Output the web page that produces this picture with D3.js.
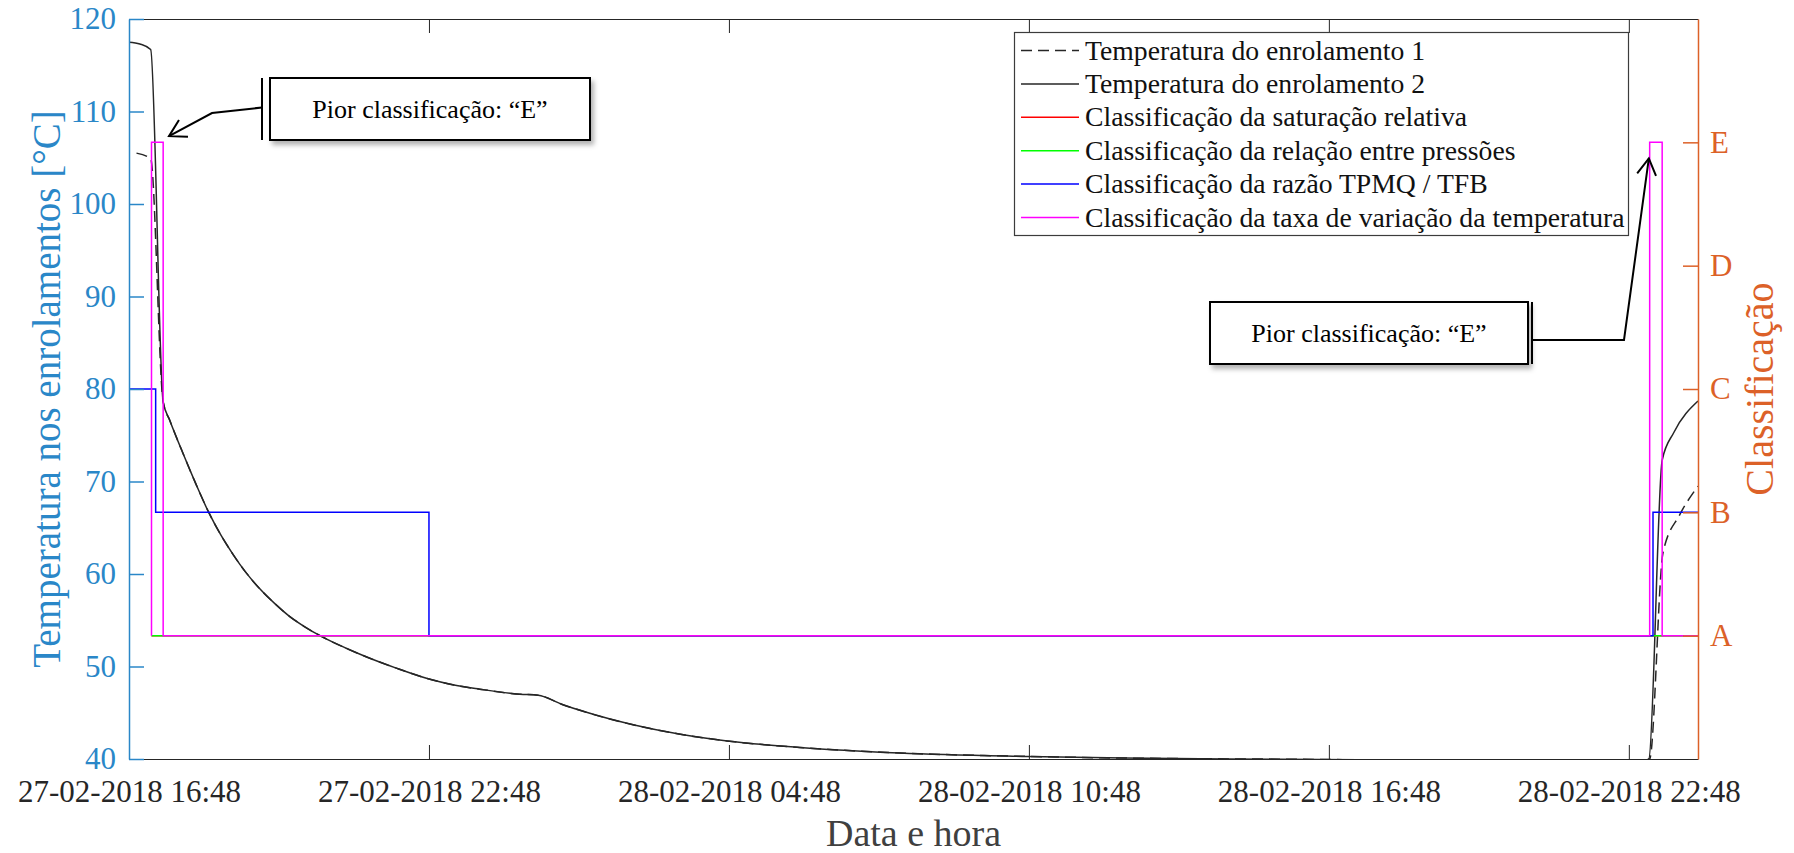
<!DOCTYPE html>
<html>
<head>
<meta charset="utf-8">
<script src="https://cdn.jsdelivr.net/npm/d3@7"></script>
<style>
body { margin: 0; background: #fff; }
svg { display: block; font-family: "Liberation Serif", "Times New Roman", serif; }
</style>
</head>
<body>
<div id="chart"></div>
<script>
var parseTime = d3.timeParse("%d-%m-%Y %H:%M");
var formatTime = d3.timeFormat("%d-%m-%Y %H:%M");

// temperaturas (eixo esquerdo, °C)
var enrol1Times = ["27-02-2018 16:57", "27-02-2018 17:14", "27-02-2018 17:29", "27-02-2018 17:37", "27-02-2018 17:53",
    "27-02-2018 18:08", "27-02-2018 18:24", "27-02-2018 18:38", "27-02-2018 18:53", "27-02-2018 19:08", "27-02-2018 19:25",
    "27-02-2018 19:43", "27-02-2018 20:01", "27-02-2018 20:18", "27-02-2018 20:40", "27-02-2018 21:08", "27-02-2018 21:34",
    "27-02-2018 22:08", "27-02-2018 22:46", "27-02-2018 23:18", "27-02-2018 23:49", "28-02-2018 00:37", "28-02-2018 00:59",
    "28-02-2018 01:28", "28-02-2018 01:55", "28-02-2018 02:53", "28-02-2018 03:48", "28-02-2018 04:46", "28-02-2018 06:13",
    "28-02-2018 08:13", "28-02-2018 10:46", "28-02-2018 12:42", "28-02-2018 15:49", "28-02-2018 19:13", "28-02-2018 23:01",
    "28-02-2018 23:13", "28-02-2018 23:29", "28-02-2018 23:49", "01-03-2018 00:11"];
var enrol1Values = [105.5, 104.9, 78.6, 76.6, 73.0, 69.8, 66.6, 64.25, 62.1, 60.2, 58.4, 56.8, 55.4, 54.35, 53.2, 52.0, 51.0,
    49.85, 48.7, 48.0, 47.55, 47.0, 46.9, 45.9, 45.1, 43.7, 42.7, 41.95, 41.25, 40.65, 40.28, 40.1, 39.98, 39.85, 39.7,
    40.0, 62.3, 66.4, 69.5];

var enrol2Times = ["27-02-2018 16:48", "27-02-2018 17:01", "27-02-2018 17:14", "27-02-2018 17:29", "27-02-2018 17:37",
    "27-02-2018 17:53", "27-02-2018 18:08", "27-02-2018 18:24", "27-02-2018 18:38", "27-02-2018 18:53", "27-02-2018 19:08",
    "27-02-2018 19:25", "27-02-2018 19:43", "27-02-2018 20:01", "27-02-2018 20:18", "27-02-2018 20:40", "27-02-2018 21:08",
    "27-02-2018 21:34", "27-02-2018 22:08", "27-02-2018 22:46", "27-02-2018 23:18", "27-02-2018 23:49", "28-02-2018 00:37",
    "28-02-2018 00:59", "28-02-2018 01:28", "28-02-2018 01:55", "28-02-2018 02:53", "28-02-2018 03:48", "28-02-2018 04:46",
    "28-02-2018 06:13", "28-02-2018 08:13", "28-02-2018 10:46", "28-02-2018 12:42", "28-02-2018 15:49", "28-02-2018 19:13",
    "28-02-2018 23:01", "28-02-2018 23:12", "28-02-2018 23:28", "28-02-2018 23:42", "01-03-2018 00:11"];
var enrol2Values = [117.5, 117.3, 116.7, 78.6, 76.6, 73.0, 69.8, 66.6, 64.25, 62.1, 60.2, 58.4, 56.8, 55.4, 54.35, 53.2,
    52.0, 51.0, 49.85, 48.7, 48.0, 47.55, 47.0, 46.9, 45.9, 45.1, 43.7, 42.7, 41.95, 41.25, 40.65, 40.28, 40.1, 39.98, 39.85,
    39.7, 40.0, 72.3, 75.3, 78.7];

// classificações (eixo direito, 1 = A ... 5 = E)
var saturacaoTimes = ["27-02-2018 17:15", "01-03-2018 00:11"];
var saturacaoValues = [1, 1];
var pressoesTimes = ["27-02-2018 17:15", "01-03-2018 00:11"];
var pressoesValues = [1, 1];
var razaoTimes = ["27-02-2018 16:48", "27-02-2018 17:20", "27-02-2018 22:48", "28-02-2018 23:17", "01-03-2018 00:11"];
var razaoValues = [3, 2, 1, 2, 2];
var taxaTimes = ["27-02-2018 17:15", "27-02-2018 17:15", "27-02-2018 17:29", "28-02-2018 23:13", "28-02-2018 23:28", "01-03-2018 00:11"];
var taxaValues = [1, 5, 1, 5, 1, 1];

// eixos
var xDomain = ["27-02-2018 16:48", "01-03-2018 00:11"];
var xTickLabels = ["27-02-2018 16:48", "27-02-2018 22:48", "28-02-2018 04:48", "28-02-2018 10:48", "28-02-2018 16:48", "28-02-2018 22:48"];
var tempTicks = [40, 50, 60, 70, 80, 90, 100, 110, 120];
var classTicks = [1, 2, 3, 4, 5];
var classLabels = ["A", "B", "C", "D", "E"];

var legendNames = ["Temperatura do enrolamento 1", "Temperatura do enrolamento 2", "Classificação da saturação relativa",
    "Classificação da relação entre pressões", "Classificação da razão TPMQ / TFB", "Classificação da taxa de variação da temperatura"];

// anotações "pior classificação"
var worstText = "Pior classificação: \u201CE\u201D";
var worstTimes = ["27-02-2018 17:36", "28-02-2018 23:12"];
var worstClass = [5.05, 4.87];

var W = 1794, H = 853;
var m = { left: 129, top: 19, right: 1698, bottom: 759 };
var blue = "#2a87c8", orange = "#dc6128", dark = "#262626";

var svg = d3.select("#chart").append("svg").attr("width", W).attr("height", H);

var x = d3.scaleTime().domain(xDomain.map(parseTime)).range([m.left, m.right]);
var yL = d3.scaleLinear().domain([40, 120]).range([m.bottom, m.top]);
var yR = d3.scaleLinear().domain([0, 6]).range([m.bottom, m.top]);

var defs = svg.append("defs");
defs.append("clipPath").attr("id", "plot-clip").append("rect")
    .attr("x", m.left).attr("y", m.top).attr("width", m.right - m.left).attr("height", m.bottom - m.top);
defs.append("filter").attr("id", "shadow").attr("x", "-10%").attr("y", "-20%").attr("width", "130%").attr("height", "160%")
    .append("feDropShadow").attr("dx", 3).attr("dy", 4).attr("stdDeviation", 2.5)
    .attr("flood-color", "#000").attr("flood-opacity", 0.3);

// x axes (bottom + top box line)
var xTicks = xTickLabels.map(parseTime);
var gx = svg.append("g").attr("transform", "translate(0," + m.bottom + ")")
    .call(d3.axisBottom(x).tickValues(xTicks).tickFormat(formatTime).tickSizeInner(-14).tickSizeOuter(0).tickPadding(21));
gx.select(".domain").attr("stroke", dark);
gx.selectAll(".tick line").attr("stroke", dark);
gx.selectAll("text").attr("font-size", 31).attr("fill", dark).attr("font-family", "Liberation Serif");

var gxt = svg.append("g").attr("transform", "translate(0," + m.top + ")")
    .call(d3.axisTop(x).tickValues(xTicks).tickFormat("").tickSizeInner(-14).tickSizeOuter(0));
gxt.select(".domain").attr("stroke", dark);
gxt.selectAll(".tick line").attr("stroke", dark);

// series
var series = [
    { times: enrol1Times, values: enrol1Values, y: yL, color: dark, width: 1.5, dash: "11,6", curve: d3.curveMonotoneX },
    { times: enrol2Times, values: enrol2Values, y: yL, color: dark, width: 1.5, dash: null, curve: d3.curveMonotoneX },
    { times: saturacaoTimes, values: saturacaoValues, y: yR, color: "#ff0000", width: 1.5, dash: null, curve: d3.curveStepAfter },
    { times: pressoesTimes, values: pressoesValues, y: yR, color: "#00ff00", width: 1.5, dash: null, curve: d3.curveStepAfter },
    { times: razaoTimes, values: razaoValues, y: yR, color: "#0000ff", width: 1.5, dash: null, curve: d3.curveStepAfter },
    { times: taxaTimes, values: taxaValues, y: yR, color: "#ff00ff", width: 1.5, dash: null, curve: d3.curveStepAfter }
];

var plot = svg.append("g").attr("clip-path", "url(#plot-clip)");
series.forEach(function (s) {
    var pts = s.times.map(function (t, i) { return [parseTime(t), s.values[i]]; });
    var line = d3.line().x(function (d) { return x(d[0]); }).y(function (d) { return s.y(d[1]); }).curve(s.curve);
    plot.append("path").datum(pts)
        .attr("d", line)
        .attr("fill", "none")
        .attr("stroke", s.color)
        .attr("stroke-width", s.width)
        .attr("stroke-dasharray", s.dash);
});

// y axes
var gl = svg.append("g").attr("transform", "translate(" + m.left + ",0)")
    .call(d3.axisLeft(yL).tickValues(tempTicks).tickSizeInner(-15).tickSizeOuter(0).tickPadding(13));
gl.select(".domain").attr("stroke", blue).attr("stroke-width", 1.5);
gl.selectAll(".tick line").attr("stroke", blue).attr("stroke-width", 1.5);
gl.selectAll("text").attr("font-size", 31).attr("fill", blue).attr("font-family", "Liberation Serif");

var gr = svg.append("g").attr("transform", "translate(" + m.right + ",0)")
    .call(d3.axisRight(yR).tickValues(classTicks).tickFormat(function (d) { return classLabels[d - 1]; })
        .tickSizeInner(-15).tickSizeOuter(0).tickPadding(12));
gr.select(".domain").attr("stroke", orange).attr("stroke-width", 1.5);
gr.selectAll(".tick line").attr("stroke", orange).attr("stroke-width", 1.5);
gr.selectAll("text").attr("font-size", 31).attr("fill", orange).attr("font-family", "Liberation Serif");

// axis titles
svg.append("text").attr("x", (m.left + m.right) / 2).attr("y", 846)
    .attr("text-anchor", "middle").attr("font-size", 38).attr("fill", "#404040").text("Data e hora");
svg.append("text").attr("transform", "translate(60," + (m.top + m.bottom) / 2 + ") rotate(-90)")
    .attr("text-anchor", "middle").attr("font-size", 39).attr("fill", blue).text("Temperatura nos enrolamentos [°C]");
svg.append("text").attr("transform", "translate(1773," + (m.top + m.bottom) / 2 + ") rotate(-90)")
    .attr("text-anchor", "middle").attr("font-size", 40).attr("fill", orange).text("Classificação");

// legend
var legend = svg.append("g");
legend.append("rect").attr("x", 1014.5).attr("y", 32.5).attr("width", 614).attr("height", 203)
    .attr("fill", "#fff").attr("stroke", "#3c3c3c").attr("stroke-width", 1.2);
legendNames.forEach(function (name, i) {
    var cy = 50.5 + i * 33.4;
    legend.append("line").attr("x1", 1021).attr("x2", 1079).attr("y1", cy).attr("y2", cy)
        .attr("stroke", series[i].color).attr("stroke-width", 1.5).attr("stroke-dasharray", series[i].dash);
    legend.append("text").attr("x", 1085).attr("y", cy).attr("dy", "0.33em")
        .attr("font-size", 27.7).attr("fill", "#111").text(name);
});

// callouts
var callouts = [
    { box: [270, 78, 320, 62], bar: 262, path: [[262, 107.5], [212, 113]] },
    { box: [1210, 302, 318, 62], bar: 1532, path: [[1532, 340], [1624, 340]] }
];
callouts.forEach(function (c, i) {
    var tip = [x(parseTime(worstTimes[i])), yR(worstClass[i])];
    var g = svg.append("g");
    g.append("rect").attr("x", c.box[0]).attr("y", c.box[1]).attr("width", c.box[2]).attr("height", c.box[3])
        .attr("fill", "#fff").attr("stroke", "#000").attr("stroke-width", 2).attr("filter", "url(#shadow)");
    g.append("line").attr("x1", c.bar).attr("x2", c.bar).attr("y1", c.box[1]).attr("y2", c.box[1] + c.box[3])
        .attr("stroke", "#000").attr("stroke-width", 2);
    g.append("text").attr("x", c.box[0] + c.box[2] / 2).attr("y", c.box[1] + c.box[3] / 2 + 9)
        .attr("text-anchor", "middle").attr("font-size", 26).attr("fill", "#000").text(worstText);
    var pts = c.path.concat([tip]);
    g.append("path").attr("d", d3.line()(pts)).attr("fill", "none").attr("stroke", "#000").attr("stroke-width", 2);
    // open arrow head
    var prev = pts[pts.length - 2];
    var ang = Math.atan2(prev[1] - tip[1], prev[0] - tip[0]);
    var len = 19, spread = Math.PI / 6;
    var w1 = [tip[0] + len * Math.cos(ang - spread), tip[1] + len * Math.sin(ang - spread)];
    var w2 = [tip[0] + len * Math.cos(ang + spread), tip[1] + len * Math.sin(ang + spread)];
    g.append("path").attr("d", d3.line()([w1, tip, w2])).attr("fill", "none").attr("stroke", "#000").attr("stroke-width", 2);
});
</script>
</body>
</html>
